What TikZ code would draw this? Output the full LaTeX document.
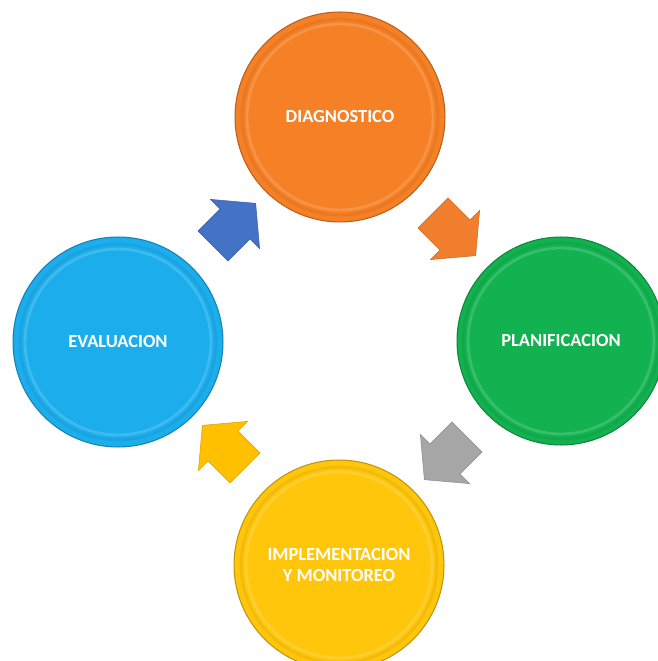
\documentclass[tikz,border=0pt]{standalone}
\usepackage{fontspec}
\setmainfont{Carlito}
\usepackage{tikz}
\usetikzlibrary{shapes.arrows}

\definecolor{orangeD}{RGB}{245,128,37}
\definecolor{greenP}{RGB}{18,178,80}
\definecolor{yellowI}{RGB}{255,198,12}
\definecolor{blueE}{RGB}{28,174,236}
\definecolor{blueA}{RGB}{68,114,196}
\definecolor{orangeA}{RGB}{240,126,44}
\definecolor{grayA}{RGB}{166,166,166}
\definecolor{yellowA}{RGB}{255,192,0}

\tikzset{
  stage/.style={circle, minimum size=4.2cm, fill=#1, draw=#1!75!black, line width=0.6pt,
    text=white, align=center, font=\fontsize{10.5}{12}\selectfont\bfseries,
    path picture={\draw[#1!55!white, line width=1.6pt, opacity=0.35]
      (path picture bounding box.center) circle (1.86cm);
      \draw[#1!85!black, line width=1.6pt, opacity=0.35]
      (path picture bounding box.center) circle (1.96cm);}},
  turn/.style={single arrow, fill=#1, draw=#1!85!black, line width=0.3pt,
    minimum height=1.12cm, inner sep=0.42cm, single arrow head extend=0.27cm,
    single arrow tip angle=100}
}

\begin{document}
\begin{tikzpicture}[x=0.02cm, y=-0.02cm]
        \useasboundingbox[fill=white] (0,0) rectangle (657,661);

        \node[stage=orangeD] (diag) at (340,117) {DIAGNOSTICO};
        \node[stage=greenP, minimum size=4.16cm] (plan) at (561,341) {PLANIFICACION};
        \node[stage=yellowI] (impl) at (339,565) {IMPLEMENTACION\\Y MONITOREO};
        \node[stage=blueE] (eval) at (118,342) {EVALUACION};

        \node[turn=blueA, rotate=45] (a1) at (228,231) {};
        \node[turn=orangeA, rotate=-45] (a2) at (448,228) {};
        \node[turn=grayA, rotate=-135] (a3) at (452,452) {};
        \node[turn=yellowA, rotate=135] (a4) at (230,453) {};
    \end{tikzpicture}
\end{document}
